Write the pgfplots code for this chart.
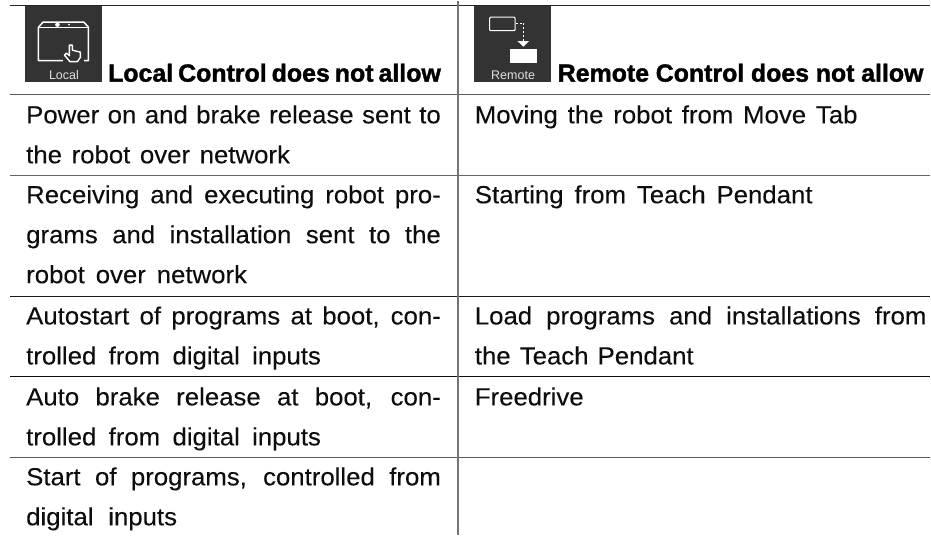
\documentclass[border=0pt]{standalone}
\usepackage{pgfplots}
\pgfplotsset{compat=1.18}
\usepackage{fontspec}
\setmainfont{Liberation Sans}
\newfontfamily\bodyfont[FakeStretch=1.04,FakeBold=0.1]{Liberation Sans}
\newfontfamily\headfont[FakeBold=1.5,FakeStretch=1.005]{Liberation Sans Bold}
\newcommand{\tl}[4]{\node[anchor=base west,inner sep=0pt,text=black!95] at (axis cs:#1,#2) {\fontsize{24.8}{30}\bodyfont\makebox[#3pt][s]{#4}};}
\newcommand{\hd}[4]{\node[anchor=base west,inner sep=0pt,text=black] at (axis cs:#1,#2) {\fontsize{24.8}{30}\headfont\makebox[#3pt][s]{#4}};}
\definecolor{icon}{HTML}{333333}
\begin{document}
\begin{tikzpicture}
\begin{axis}[scale only axis,width=931pt,height=535pt,xmin=0,xmax=931,ymin=0,ymax=535,y dir=reverse,hide axis,clip=false]
% rules
\addplot[black!85,line width=0.9pt,forget plot] coordinates {(10,5.2)(931,5.2)};
\addplot[black!65,line width=1.2pt,forget plot] coordinates {(10,94)(931,94)};
\addplot[black!60,line width=1.5pt,forget plot] coordinates {(10,175)(931,175)};
\addplot[black!90,line width=0.9pt,forget plot] coordinates {(10,296)(931,296)};
\addplot[black!95,line width=0.9pt,forget plot] coordinates {(10,376.3)(931,376.3)};
\addplot[black!65,line width=1.2pt,forget plot] coordinates {(10,457)(931,457)};
\addplot[black!55,line width=1.4pt,forget plot] coordinates {(458.3,0)(458.3,535)};
% icons
\fill[icon] (25,5.7) rectangle (102,81.5);
\fill[icon] (474,5.7) rectangle (551,81.5);
\draw[white,line width=1.5pt,line join=round] (38.5,60) -- (38.5,26.5) -- (43,21.5) -- (84,21.5) -- (88.5,26.5) -- (88.5,60) -- cycle;
\draw[white,line width=1pt] (38.5,26.5) -- (88.5,26.5);
\fill[white] (57.5,24) circle (2.3);
\fill[white] (69,24) circle (1);
\fill[icon] (63,43) rectangle (84,63);
\draw[white,line width=1.4pt,fill=icon,line join=round] (69.5,44.5) -- (72.5,44.5) -- (72.5,49.5) -- (80.5,51.5) -- (80.5,56.5) -- (77.5,61) -- (70,61) -- (64.5,54.5) -- (66.5,52.5) -- (69.5,55) -- cycle;
\node[anchor=base,inner sep=0pt,text=black!12] at (axis cs:64,79) {\fontsize{12.5}{14}\selectfont Local};
\draw[white,line width=1.1pt,rounded corners=1pt] (490,16.5) rectangle (515.5,30);
\draw[white,line width=1.1pt,dash pattern=on 2.2pt off 1.8pt] (516,22.5) -- (524,22.5) -- (524,41);
\fill[white] (518,40.5) -- (529.5,40.5) -- (523.8,46) -- cycle;
\fill[white] (510,48) rectangle (537,62.5);
\node[anchor=base,inner sep=0pt,text=black!12] at (axis cs:513.5,79) {\fontsize{12.5}{14}\selectfont Remote};
% headers
\hd{108}{81}{333}{Local Control does not allow}
\hd{558}{81}{366}{Remote Control does not allow}
% left column
\tl{26}{122.7}{415}{Power on and brake release sent to}
\tl{26}{162.7}{264}{the robot over network}
\tl{26}{202.7}{415}{Receiving and executing robot pro-}
\tl{26}{242.7}{415}{grams and installation sent to the}
\tl{26}{282.7}{221}{robot over network}
\tl{26}{324}{415}{Autostart of programs at boot, con-}
\tl{26}{364}{295}{trolled from digital inputs}
\tl{26}{405}{415}{Auto brake release at boot, con-}
\tl{26}{445}{295}{trolled from digital inputs}
\tl{26}{485}{415}{Start of programs, controlled from}
\tl{26}{525}{151}{digital inputs}
% right column
\tl{475}{122.7}{383}{Moving the robot from Move Tab}
\tl{475}{202.7}{338}{Starting from Teach Pendant}
\tl{475}{324}{452}{Load programs and installations from}
\tl{475}{364}{219}{the Teach Pendant}
\tl{475}{405}{107}{Freedrive}
\path (axis cs:0,0) (axis cs:931,535);
\end{axis}
\end{tikzpicture}
\end{document}
